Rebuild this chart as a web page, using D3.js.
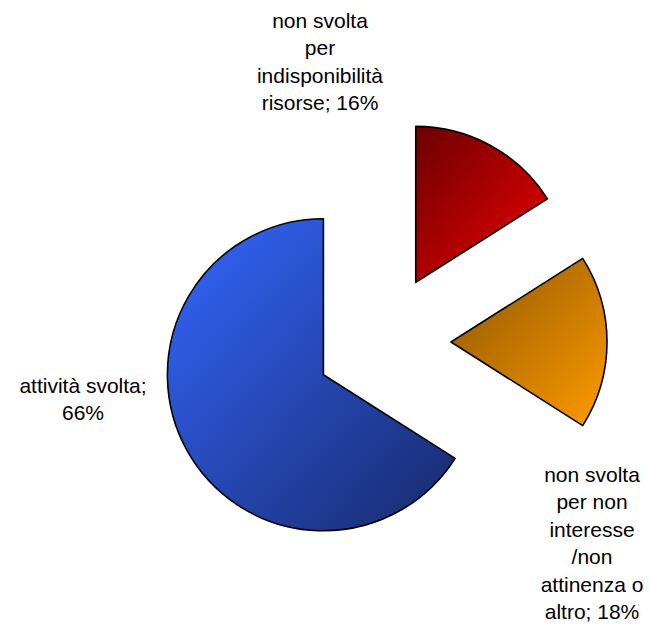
<!DOCTYPE html>
<html>
<head>
<meta charset="utf-8">
<script src="https://cdn.jsdelivr.net/npm/d3@7"></script>
<style>
  body { margin: 0; background: #fff; }
  svg text { font-family: Arial, "Liberation Sans", sans-serif; fill: #000; }
</style>
</head>
<body>
<svg id="chart" width="650" height="633"></svg>
<script>
// data
const categories = ['non svolta per indisponibilità risorse', 'non svolta per non interesse /non attinenza o altro', 'attività svolta'];
const values = [16, 18, 66];
const labelLines = [
	['non svolta', 'per', 'indisponibilità', 'risorse; 16%'],
	['non svolta', 'per non', 'interesse', '/non', 'attinenza o', 'altro; 18%'],
	['attività svolta;', '66%']
];
// gradient stops, top-left -> bottom-right
const gradColors = [
	['#6c0000', '#f00000'],
	['#8a5600', '#ff9a00'],
	['#3467ff', '#17296a']
];

// layout
const W = 650, H = 633;
const cx = 383, cy = 342;
const R = 156, explode = 68;
const fontSize = 21, lineH = 27.4;
// label anchor (text centre, first baseline) relative to the pie centre
const labelPos = [[-63, -314], [209, 140], [-300, 51]];

const svg = d3.select('#chart');
const defs = svg.append('defs');

gradColors.forEach((c, i) => {
	const g = defs.append('linearGradient')
		.attr('id', 'grad' + i)
		.attr('x1', 0).attr('y1', 0)
		.attr('x2', 1).attr('y2', 1);
	g.append('stop').attr('offset', '0%').attr('stop-color', c[0]);
	g.append('stop').attr('offset', '100%').attr('stop-color', c[1]);
});

const pie = d3.pie().sort(null).value(d => d)(values);
const arc = d3.arc().innerRadius(0).outerRadius(R);

const root = svg.append('g').attr('transform', `translate(${cx},${cy})`);

root.selectAll('path.slice')
	.data(pie)
	.join('path')
	.attr('class', 'slice')
	.attr('transform', d => {
		const a = (d.startAngle + d.endAngle) / 2;
		return `translate(${explode * Math.sin(a)},${-explode * Math.cos(a)})`;
	})
	.attr('d', arc)
	.attr('fill', (d, i) => `url(#grad${i})`)
	.attr('stroke', '#000')
	.attr('stroke-width', 1.6)
	.attr('stroke-linejoin', 'round');

const labels = root.selectAll('text.lbl')
	.data(pie)
	.join('text')
	.attr('class', 'lbl')
	.attr('text-anchor', 'middle')
	.attr('font-size', fontSize)
	.attr('x', (d, i) => labelPos[i][0])
	.attr('y', (d, i) => labelPos[i][1]);

labels.each(function(d, i) {
	d3.select(this).selectAll('tspan')
		.data(labelLines[i])
		.join('tspan')
		.attr('x', labelPos[i][0])
		.attr('y', (t, j) => labelPos[i][1] + j * lineH)
		.text(t => t);
});
</script>
</body>
</html>
